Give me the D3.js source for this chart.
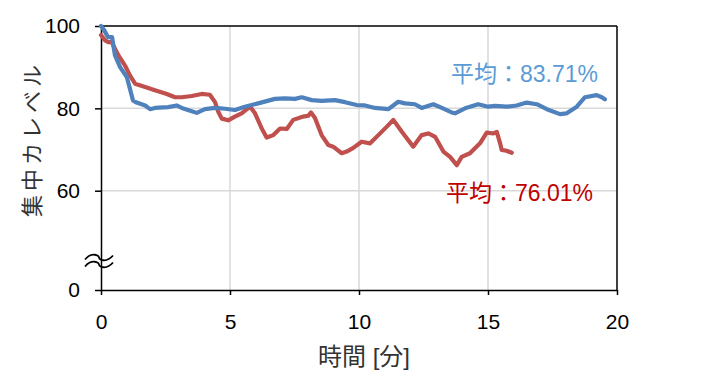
<!DOCTYPE html>
<html>
<head>
<meta charset="utf-8">
<script src="https://cdn.jsdelivr.net/npm/d3@7"></script>
<style>
  html, body { margin: 0; padding: 0; background: #fff; }
  svg { display: block; }
</style>
</head>
<body>
<svg id="chart" width="705" height="391"></svg>
<script>
// ---- Data (minutes, concentration level %) ----
const blueTime = [0, 0.12, 0.27, 0.43, 0.54, 0.74, 1.0, 1.12, 1.24, 1.38, 1.71, 1.90, 2.09, 2.60, 2.93, 3.13, 3.52, 3.71, 4.03, 4.42, 4.81, 5.19, 5.58, 6.09, 6.74, 7.13, 7.52, 7.78, 8.17, 8.55, 9.07, 9.46, 9.91, 10.23, 10.62, 11.14, 11.52, 11.78, 12.17, 12.43, 12.88, 13.21, 13.59, 13.72, 14.11, 14.62, 15.01, 15.27, 15.72, 16.11, 16.50, 16.89, 17.28, 17.79, 18.05, 18.44, 18.76, 19.21, 19.41, 19.53];
const blueLevel = [100, 99.0, 97.3, 97.3, 92.9, 90.0, 87.6, 84.8, 81.9, 81.4, 80.7, 79.8, 80.1, 80.3, 80.7, 80.1, 79.3, 78.9, 79.8, 80.1, 79.9, 79.6, 80.4, 81.2, 82.3, 82.4, 82.3, 82.7, 82.0, 81.8, 82.0, 81.5, 80.8, 80.7, 80.1, 79.8, 81.6, 81.2, 81.0, 80.1, 81.0, 80.1, 79.0, 78.8, 80.0, 81.0, 80.4, 80.6, 80.4, 80.7, 81.4, 81.0, 79.8, 78.6, 78.8, 80.4, 82.7, 83.2, 82.7, 82.2];

const redTime = [0, 0.16, 0.28, 0.41, 0.67, 0.93, 1.12, 1.32, 1.71, 2.09, 2.55, 2.87, 3.13, 3.52, 3.90, 4.22, 4.42, 4.55, 4.68, 4.93, 5.19, 5.45, 5.78, 5.97, 6.23, 6.42, 6.68, 6.94, 7.20, 7.45, 7.84, 8.03, 8.14, 8.29, 8.55, 8.81, 9.00, 9.33, 9.52, 9.78, 10.10, 10.43, 10.75, 11.07, 11.33, 11.66, 12.10, 12.43, 12.69, 12.95, 13.27, 13.53, 13.79, 13.98, 14.30, 14.69, 14.95, 15.21, 15.34, 15.47, 15.53, 15.72, 15.92];
const redLevel = [97.8, 96.5, 96.1, 96.1, 92.9, 90.4, 88.0, 86.0, 85.2, 84.4, 83.5, 82.7, 82.7, 83.0, 83.5, 83.3, 81.5, 79.1, 77.5, 77.1, 78.0, 78.8, 80.4, 78.8, 75.1, 72.9, 73.5, 75.1, 75.0, 77.2, 78.0, 78.2, 79.0, 77.7, 73.5, 71.1, 70.7, 69.1, 69.5, 70.4, 71.9, 71.5, 73.5, 75.5, 77.2, 74.3, 70.7, 73.5, 73.9, 73.1, 69.5, 68.2, 66.2, 68.2, 69.1, 71.5, 74.1, 73.9, 74.3, 71.5, 69.9, 69.7, 69.2];

const xTicks = [0, 5, 10, 15, 20];
const yTicks = [0, 60, 80, 100];
const yGrid = [60, 80];
const xGrid = [5, 10, 15];
const blueLabel = "平均：83.71%";
const redLabel = "平均：76.01%";
const xTitle = "時間 [分]";
const yTitle = "集中カレベル";

// ---- Layout ----
const svg = d3.select("#chart");
const L = 101, R = 617, T = 26, B = 290;
const x = d3.scaleLinear().domain([0, 20]).range([L, R]);
// broken axis: 0 is drawn just below 60
const y = d3.scaleLinear().domain([0, 60, 100]).range([B, 190.7, T]);

const latin = "'Liberation Sans', Arial, sans-serif";
const cjk = "'Liberation Sans', 'Noto Sans CJK JP', sans-serif";

// gridlines
svg.append("g").selectAll("line").data(yGrid).join("line")
  .attr("x1", L).attr("x2", R).attr("y1", d => y(d)).attr("y2", d => y(d))
  .attr("stroke", "#d9d9d9").attr("stroke-width", 1.5);
svg.append("g").selectAll("line").data(xGrid).join("line")
  .attr("x1", d => x(d)).attr("x2", d => x(d)).attr("y1", T).attr("y2", B)
  .attr("stroke", "#d9d9d9").attr("stroke-width", 1.5);

// frame (top & right)
svg.append("line").attr("x1", L).attr("x2", R).attr("y1", T).attr("y2", T)
  .attr("stroke", "#000").attr("stroke-width", 1.5);
svg.append("line").attr("x1", R).attr("x2", R).attr("y1", T).attr("y2", B)
  .attr("stroke", "#000").attr("stroke-width", 1.5);

// axes
const xAxis = d3.axisBottom(x).tickValues(xTicks).tickSize(5).tickPadding(19).tickSizeOuter(0);
const gx = svg.append("g").attr("transform", `translate(0,${B})`).call(xAxis);
gx.select(".domain").attr("stroke", "#000").attr("stroke-width", 1.5);
gx.selectAll(".tick line").attr("stroke", "#000").attr("stroke-width", 1.5);
gx.selectAll("text").attr("font-family", latin).attr("font-size", 21).attr("fill", "#000");

const yAxis = d3.axisLeft(y).tickValues(yTicks).tickSize(6).tickPadding(15).tickSizeOuter(0);
const gy = svg.append("g").attr("transform", `translate(${L},0)`).call(yAxis);
gy.select(".domain").attr("stroke", "#000").attr("stroke-width", 1.5);
gy.selectAll(".tick line").attr("stroke", "#000").attr("stroke-width", 1.5);
gy.selectAll("text").attr("font-family", latin).attr("font-size", 21).attr("fill", "#000");

// break symbol on y axis
const brk = svg.append("g").attr("transform", `translate(${L - 2},${y(0) - 29})`);
[-3.5, 3.5].forEach(dy => {
  brk.append("path")
    .attr("d", `M-14,${dy + 2} C-7,${dy - 6} 0,${dy - 2} 0,${dy} C0,${dy + 2} 7,${dy + 6} 14,${dy - 2}`)
    .attr("fill", "none").attr("stroke", "#000").attr("stroke-width", 1.8);
});

// lines
const lineGen = d3.line().x(d => x(d[0])).y(d => y(d[1]));
const redData = d3.zip(redTime, redLevel);
const blueData = d3.zip(blueTime, blueLevel);
svg.append("path").datum(redData).attr("d", lineGen)
  .attr("fill", "none").attr("stroke", "#C0504D").attr("stroke-width", 4.2)
  .attr("stroke-linejoin", "round").attr("stroke-linecap", "round");
svg.append("path").datum(blueData).attr("d", lineGen)
  .attr("fill", "none").attr("stroke", "#4F81BD").attr("stroke-width", 4.2)
  .attr("stroke-linejoin", "round").attr("stroke-linecap", "round");

// annotations
svg.append("text").text(blueLabel)
  .attr("x", 598).attr("y", 82).attr("text-anchor", "end")
  .attr("font-family", cjk).attr("font-size", 23).attr("fill", "#5B9BD5");
svg.append("text").text(redLabel)
  .attr("x", 593).attr("y", 201).attr("text-anchor", "end")
  .attr("font-family", cjk).attr("font-size", 23).attr("fill", "#C00000");

// axis titles
svg.append("text").text(xTitle)
  .attr("x", 364).attr("y", 365).attr("text-anchor", "middle")
  .attr("font-family", cjk).attr("font-size", 24).attr("fill", "#333");
svg.append("text").text(yTitle)
  .attr("transform", "translate(40,139) rotate(-90)").attr("text-anchor", "middle")
  .attr("font-family", cjk).attr("font-size", 22).attr("letter-spacing", 4).attr("fill", "#333");
</script>
</body>
</html>
